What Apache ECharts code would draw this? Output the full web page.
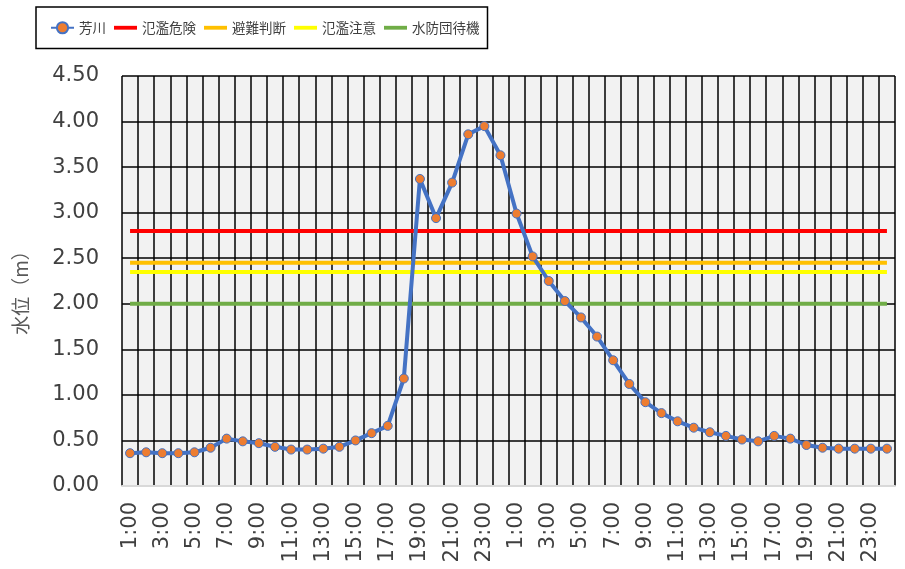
<!DOCTYPE html>
<html>
<head>
<meta charset="utf-8">
<script src="https://cdn.jsdelivr.net/npm/echarts@6/dist/echarts.min.js"></script>
<style>
html,body{margin:0;padding:0;background:#fff;}
#c{width:905px;height:569px;}
</style>
</head>
<body>
<div id="c"></div>
<script>
var categories = [
  "1:00","2:00","3:00","4:00","5:00","6:00","7:00","8:00","9:00","10:00","11:00","12:00",
  "13:00","14:00","15:00","16:00","17:00","18:00","19:00","20:00","21:00","22:00","23:00","24:00",
  "1:00","2:00","3:00","4:00","5:00","6:00","7:00","8:00","9:00","10:00","11:00","12:00",
  "13:00","14:00","15:00","16:00","17:00","18:00","19:00","20:00","21:00","22:00","23:00","24:00"
];
var yoshikawa = [
  0.36,0.37,0.36,0.36,0.37,0.42,0.52,0.49,0.47,0.43,0.40,0.40,
  0.41,0.43,0.50,0.58,0.66,1.18,3.37,2.94,3.33,3.86,3.95,3.63,
  2.99,2.52,2.25,2.03,1.85,1.64,1.38,1.12,0.92,0.80,0.71,0.64,
  0.59,0.55,0.51,0.49,0.55,0.52,0.45,0.42,0.41,0.41,0.41,0.41
];
var levelDanger = 2.80;   // 氾濫危険
var levelEvac = 2.45;     // 避難判断
var levelCaution = 2.35;  // 氾濫注意
var levelStandby = 2.00;  // 水防団待機
var yTicks = { min: 0, max: 4.5, interval: 0.5 };

function flat(v){ return categories.map(function(){ return v; }); }

var chart = echarts.init(document.getElementById('c'), null, {renderer:'canvas'});
var font = '"DejaVu Sans", "Noto Sans CJK JP", sans-serif';
var jpFont = '"Noto Sans CJK JP", "DejaVu Sans", sans-serif';
var barIcon = 'path://M0,0H24V4H0Z';
chart.setOption({
  animation: false,
  backgroundColor: '#ffffff',
  legend: {
    left: 36, top: 7,
    padding: [14, 8, 14, 14],
    itemWidth: 23, itemHeight: 14, itemGap: 8,
    symbolKeepAspect: true,
    borderColor: '#000', borderWidth: 1.5,
    textStyle: { fontFamily: jpFont, fontSize: 13.5, color: '#404040' },
    data: [
      { name: '芳川' },
      { name: '氾濫危険', icon: barIcon },
      { name: '避難判断', icon: barIcon },
      { name: '氾濫注意', icon: barIcon },
      { name: '水防団待機', icon: barIcon }
    ]
  },
  grid: { left: 122, right: 10, top: 76, bottom: 83, show: true, backgroundColor: '#f2f2f2', borderWidth: 0 },
  xAxis: {
    type: 'category',
    data: categories,
    boundaryGap: true,
    axisLine: { show: true, lineStyle: { color: '#d9d9d9', width: 2 } },
    axisTick: { show: false },
    axisLabel: { interval: 1, rotate: 90, margin: 16, fontFamily: font, fontSize: 21, color: '#404040' },
    splitLine: { show: true, interval: 0, lineStyle: { color: '#000', width: 1.5 } }
  },
  yAxis: {
    type: 'value',
    min: yTicks.min, max: yTicks.max, interval: yTicks.interval,
    name: '水位（m）',
    nameLocation: 'middle',
    nameGap: 92,
    nameRotate: 90,
    nameTextStyle: { fontFamily: jpFont, fontSize: 19, color: '#595959', padding: [0, 14, 0, 0] },
    axisLine: { show: false },
    axisTick: { show: false },
    axisLabel: { margin: 23, fontFamily: font, fontSize: 21, color: '#404040', formatter: function(v){ return v.toFixed(2); } },
    splitLine: { show: true, lineStyle: { color: '#000', width: 1.5 } }
  },
  series: [
    { name: '氾濫危険', type: 'line', data: flat(levelDanger), symbol: 'none', lineStyle: { color: '#ff0000', width: 4 }, itemStyle: { color: '#ff0000' }, z: 2 },
    { name: '避難判断', type: 'line', data: flat(levelEvac), symbol: 'none', lineStyle: { color: '#ffc000', width: 4 }, itemStyle: { color: '#ffc000' }, z: 2 },
    { name: '氾濫注意', type: 'line', data: flat(levelCaution), symbol: 'none', lineStyle: { color: '#ffff00', width: 4 }, itemStyle: { color: '#ffff00' }, z: 2 },
    { name: '水防団待機', type: 'line', data: flat(levelStandby), symbol: 'none', lineStyle: { color: '#70ad47', width: 4 }, itemStyle: { color: '#70ad47' }, z: 2 },
    { name: '芳川', type: 'line', data: yoshikawa, symbol: 'circle', symbolSize: 9, showAllSymbol: true,
      lineStyle: { color: '#4472c4', width: 4 },
      itemStyle: { color: '#ed7d31', borderColor: '#4472c4', borderWidth: 1 }, z: 5 }
  ]
});
</script>
</body>
</html>
